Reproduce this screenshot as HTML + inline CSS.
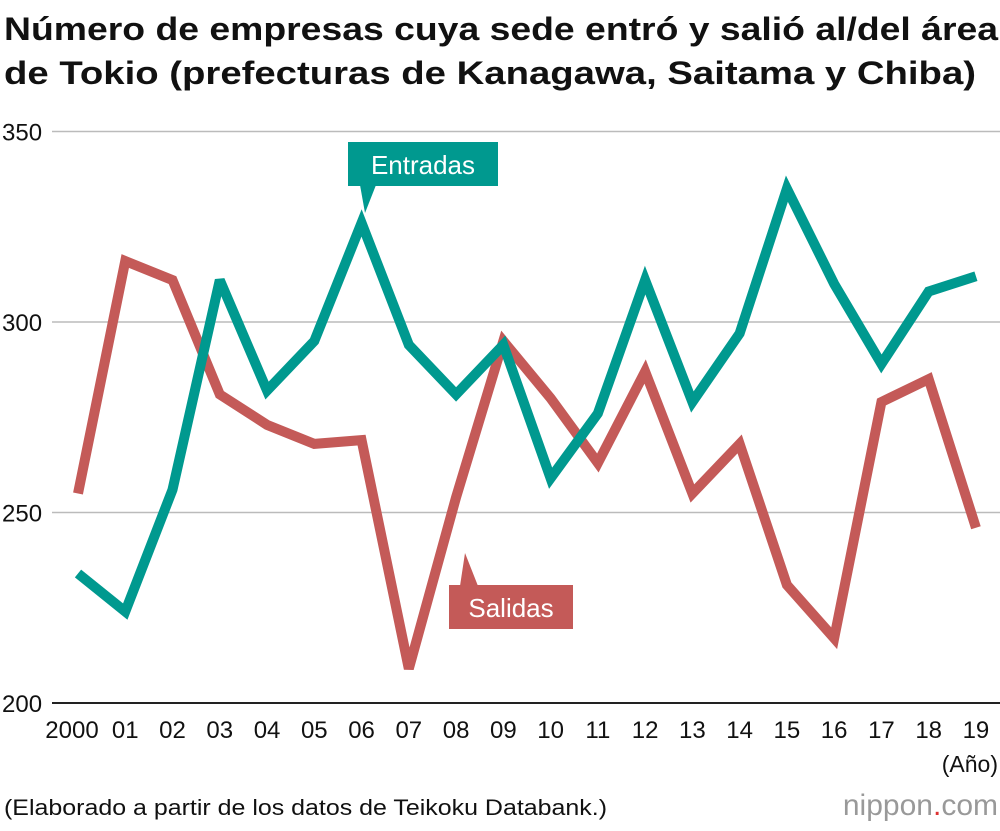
<!DOCTYPE html>
<html><head><meta charset="utf-8"><style>
body{margin:0;background:#fff;width:1000px;height:826px;overflow:hidden;font-family:"Liberation Sans",Arial,sans-serif}
</style></head><body>
<svg width="1000" height="826" xmlns="http://www.w3.org/2000/svg">
<text x="4" y="40" font-size="32" font-weight="bold" fill="#111" textLength="994" lengthAdjust="spacingAndGlyphs">Número de empresas cuya sede entró y salió al/del área</text>
<text x="4" y="84" font-size="32" font-weight="bold" fill="#111" textLength="972" lengthAdjust="spacingAndGlyphs">de Tokio (prefecturas de Kanagawa, Saitama y Chiba)</text>
<g id="grid"></g>
<g id="xt"></g>
<g id="series"></g>
<text x="998" y="772" font-size="23" text-anchor="end" fill="#111">(Año)</text>
<text x="4" y="815" font-size="22" fill="#111" textLength="603" lengthAdjust="spacingAndGlyphs">(Elaborado a partir de los datos de Teikoku Databank.)</text>
<text x="998" y="815" font-size="30" text-anchor="end" fill="#999">nippon<tspan fill="#d33">.</tspan>com</text>
</svg>
<script>
const years=["2000","01","02","03","04","05","06","07","08","09","10","11","12","13","14","15","16","17","18","19"];
const entradas=[234,224,256,311,282,295,326,294,281,294,259,276,311,279,297,335,310,289,308,312];
const salidas=[255,316,311,281,273,268,269,209,254,295,280,263,287,255,268,231,217,279,285,246];
const yTicks=[200,250,300,350];
const NS="http://www.w3.org/2000/svg";
const X=i=>78+i*47.26;
const Y=v=>703-(v-200)*3.81;
function mk(t,a,p){const e=document.createElementNS(NS,t);for(const k in a)e.setAttribute(k,a[k]);p.appendChild(e);return e;}
const grid=document.getElementById('grid');
yTicks.forEach(v=>{
 const l=mk('line',{x1:52,x2:1000,y1:Y(v),y2:Y(v),stroke:v===200?'#222':'#bbb','stroke-width':v===200?2:1.5},grid);
 
 
 const t=mk('text',{x:2,y:Y(v)+9,'font-size':24,fill:'#111'},grid);t.textContent=v;
 
 
});
const xt=document.getElementById('xt');
years.forEach((y,i)=>{
 const t=mk('text',{x:i===0?X(0)-6:X(i),y:738,'font-size':24,'text-anchor':'middle',fill:'#111'},xt);t.textContent=y;
 
 
});
const s=document.getElementById('series');
function line(d,c,n){
 const p=mk('polyline',{points:d.map((v,i)=>X(i)+','+Y(v)).join(' '),fill:'none',stroke:c,'stroke-width':10,'stroke-linejoin':'miter','stroke-miterlimit':3},s);
 
 
}
line(salidas,'#c45a58','salidas-line');
line(entradas,'#00998f','entradas-line');
const g1=mk('g',{},s);


mk('rect',{x:348,y:142,width:150,height:44,fill:'#00998f'},g1);
mk('polygon',{points:'360,185 376,185 365,213',fill:'#00998f'},g1);
const t1=mk('text',{x:423,y:174,'font-size':26,fill:'#fff','text-anchor':'middle'},g1);t1.textContent='Entradas';
const g2=mk('g',{},s);


mk('rect',{x:449,y:585,width:124,height:44,fill:'#c45a58'},g2);
mk('polygon',{points:'460,586 478,586 465,553',fill:'#c45a58'},g2);
const t2=mk('text',{x:511,y:617,'font-size':26,fill:'#fff','text-anchor':'middle'},g2);t2.textContent='Salidas';
</script>
</body></html>
